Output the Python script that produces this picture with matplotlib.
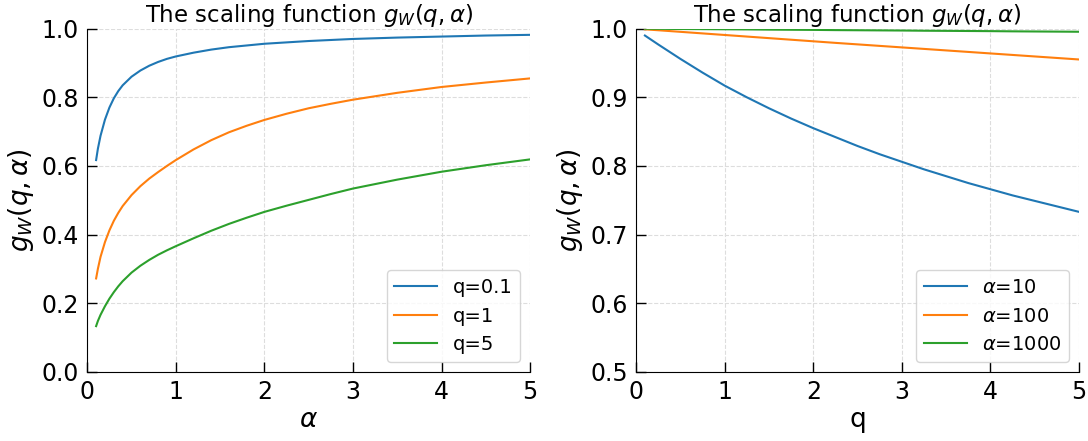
import numpy as np
import matplotlib
matplotlib.use("Agg")
import matplotlib.pyplot as plt

# left panel: g_W against alpha for three values of q
alpha = [0.1, 0.12, 0.15, 0.2, 0.25, 0.3, 0.35, 0.4, 0.5, 0.6, 0.7, 0.8, 0.9, 1.0,
         1.2, 1.4, 1.6, 1.8, 2.0, 2.25, 2.5, 2.75, 3.0, 3.5, 4.0, 4.5, 5.0]
g_q01 = [0.617, 0.650, 0.688, 0.735, 0.770, 0.797, 0.818, 0.835, 0.860, 0.878, 0.892, 0.903, 0.912, 0.919,
         0.930, 0.939, 0.946, 0.951, 0.956, 0.960, 0.964, 0.967, 0.970, 0.974, 0.977, 0.980, 0.982]
g_q1 = [0.272, 0.300, 0.335, 0.378, 0.412, 0.440, 0.463, 0.483, 0.515, 0.541, 0.563, 0.582, 0.600, 0.617,
        0.648, 0.675, 0.698, 0.717, 0.734, 0.752, 0.768, 0.781, 0.793, 0.813, 0.830, 0.843, 0.855]
g_q5 = [0.133, 0.148, 0.166, 0.191, 0.213, 0.232, 0.249, 0.264, 0.289, 0.309, 0.326, 0.341, 0.354, 0.366,
        0.389, 0.411, 0.431, 0.449, 0.466, 0.484, 0.501, 0.518, 0.534, 0.560, 0.583, 0.602, 0.619]
left_labels = ["q=0.1", "q=1", "q=5"]

# right panel: g_W against q for three values of alpha
q = [0.1, 0.25, 0.5, 0.75, 1.0, 1.25, 1.5, 1.75, 2.0, 2.25, 2.5, 2.75, 3.0,
     3.25, 3.5, 3.75, 4.0, 4.25, 4.5, 4.75, 5.0]
g_a10 = [0.990, 0.977, 0.956, 0.936, 0.917, 0.900, 0.884, 0.869, 0.855, 0.842, 0.829, 0.817, 0.806,
         0.795, 0.785, 0.775, 0.766, 0.757, 0.749, 0.741, 0.733]
g_a100 = [0.9990, 0.9977, 0.9954, 0.9931, 0.9908, 0.9885, 0.9862, 0.9839, 0.9816, 0.9793, 0.9771, 0.9749, 0.9727,
          0.9705, 0.9683, 0.9661, 0.9639, 0.9617, 0.9595, 0.9573, 0.9551]
g_a1000 = [0.9999, 0.9998, 0.9995, 0.9993, 0.9991, 0.9989, 0.9986, 0.9984, 0.9982, 0.9979, 0.9977, 0.9975, 0.9973,
           0.9970, 0.9968, 0.9966, 0.9964, 0.9961, 0.9959, 0.9957, 0.9955]
right_labels = [r"$\alpha$=10", r"$\alpha$=100", r"$\alpha$=1000"]

colors = ["#1f77b4", "#ff7f0e", "#2ca02c"]
title = r"The scaling function $g_W(q,\alpha)$"

fig = plt.figure(figsize=(10.88, 4.41), dpi=100)
ax1 = fig.add_axes([0.0802, 0.157, 0.407, 0.778])
ax2 = fig.add_axes([0.5846, 0.157, 0.4072, 0.778])


def style(ax, xlabel, ylim, yticks):
    ax.set_xlim(0, 5)
    ax.set_ylim(*ylim)
    ax.set_yticks(yticks)
    ax.set_xticks([0, 1, 2, 3, 4, 5])
    ax.spines["top"].set_visible(False)
    ax.spines["right"].set_visible(False)
    ax.tick_params(direction="in", length=7, width=1, labelsize=17, pad=6)
    ax.grid(True, linestyle="--", color="#dddddd", linewidth=0.8)
    ax.set_axisbelow(True)
    ax.set_xlabel(xlabel, fontsize=19, labelpad=2)
    ax.set_ylabel(r"$g_W(q,\alpha)$", fontsize=19, labelpad=4)
    ax.set_title(title, fontsize=16.5, pad=4)


for ys, lab, c in zip([g_q01, g_q1, g_q5], left_labels, colors):
    ax1.plot(alpha, ys, color=c, lw=1.5, label=lab)
style(ax1, r"$\alpha$", (0, 1), [0, 0.2, 0.4, 0.6, 0.8, 1.0])
ax1.legend(loc="lower right", fontsize=14, handlelength=2.2)

for ys, lab, c in zip([g_a10, g_a100, g_a1000], right_labels, colors):
    ax2.plot(q, ys, color=c, lw=1.5, label=lab)
style(ax2, "q", (0.5, 1), [0.5, 0.6, 0.7, 0.8, 0.9, 1.0])
ax2.legend(loc="lower right", fontsize=14, handlelength=2.2)

fig.savefig("out.png", dpi=100)
